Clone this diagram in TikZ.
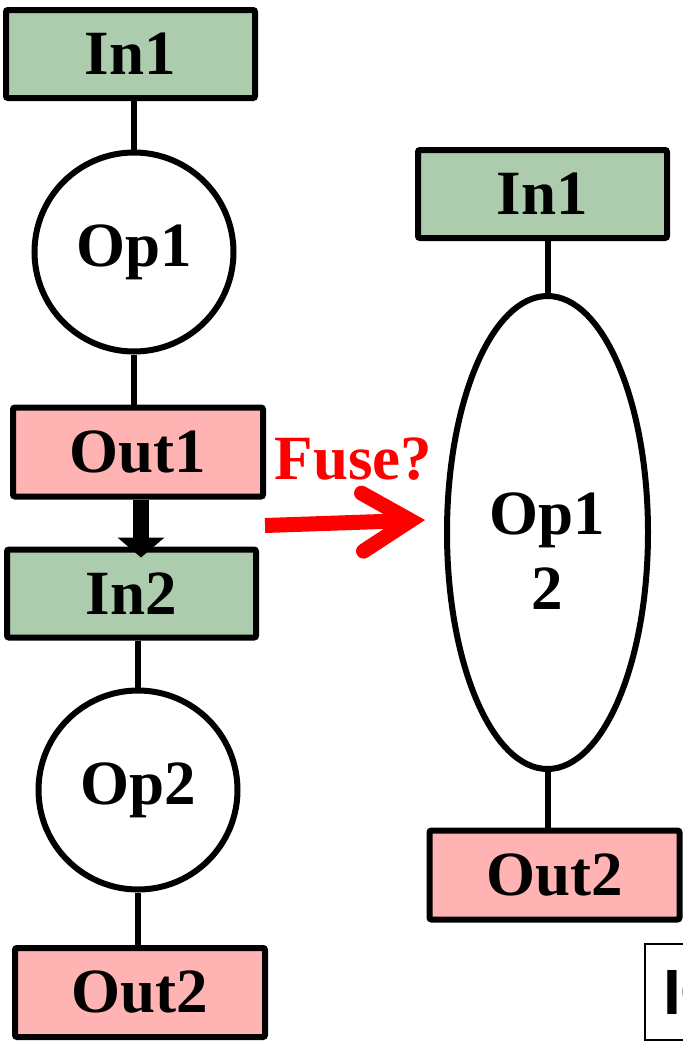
\documentclass[tikz,border=0pt]{standalone}
\usepackage{fontspec}
\setmainfont{Liberation Serif}
\newfontfamily\iofont{Liberation Sans}
\usepackage{tikz}
\usetikzlibrary{arrows.meta,shapes.geometric,positioning}
\definecolor{ingreen}{RGB}{173,203,173}
\definecolor{outpink}{RGB}{255,179,179}
\definecolor{fusered}{RGB}{255,0,0}
\newcommand\boxfont{\bfseries\fontsize{63}{75}\selectfont}
\tikzset{
  link/.style={line width=6pt,draw=black},
  inbox/.style={draw=black,line width=6pt,rounded corners=2pt,fill=ingreen,minimum width=249pt,minimum height=88pt,inner sep=0pt,font=\boxfont},
  outbox/.style={draw=black,line width=6pt,rounded corners=2pt,fill=outpink,minimum width=250pt,minimum height=89pt,inner sep=0pt,font=\boxfont},
  opnode/.style={circle,draw=black,line width=6pt,fill=white,minimum size=199pt,inner sep=0pt,font=\boxfont},
  fusedop/.style={ellipse,draw=black,line width=6pt,fill=white,minimum width=201pt,minimum height=473pt,inner sep=0pt},
  optext/.style={inner sep=0pt,align=center,font=\boxfont},
  passarrow/.style={-{Triangle[length=20pt,width=46pt]},line width=16pt,draw=black},
  fusearrow/.style={-{Straight Barb[length=48pt,width=58pt,line cap=round,line join=miter]},line width=15pt,draw=fusered}
}
\begin{document}
\begin{tikzpicture}[x=1pt,y=-1pt]
  \useasboundingbox (0,0) rectangle (683,1045);
  % left: two separate ops
  \node[inbox] (lIn1) at (130.5,54) {In1};
  \node[opnode] (lOp1) at (134,252) {Op1};
  \node[outbox] (lOut1) at (138,452) {Out1};
  \node[inbox] (lIn2) at (131.5,593.5) {In2};
  \node[opnode] (lOp2) at (138,790) {Op2};
  \node[outbox] (lOut2) at (140,992.5) {Out2};
  \draw[link] (lIn1.south -| lOp1.north) -- (lOp1.north);
  \draw[link] (lOp1.south) -- (lOp1.south |- lOut1.north);
  \draw[link] (lIn2.south -| lOp2.north) -- (lOp2.north);
  \draw[link] (lOp2.south) -- (lOp2.south |- lOut2.north);
  \draw[passarrow] ([xshift=3pt]lOut1.south) -- ([xshift=9.5pt,yshift=-11pt]lIn2.north);
  % right: fused op
  \node[inbox] (rIn1) at (542.5,194) {In1};
  \node[fusedop] (rOp) at (547.5,532.5) {};
  \node[optext] (rOpText) at ([yshift=-18.5pt]rOp.center) {Op1\\2};
  \node[outbox] (rOut2) at (554.5,875) {Out2};
  \draw[link] (rIn1.south -| rOp.north) -- (rOp.north);
  \draw[link] (rOp.south) -- (rOp.south |- rOut2.north);
  % fuse arrow
  \coordinate (fuseS) at (265,525.5);
  \coordinate (fuseE) at (425,520);
  \draw[fusearrow] (fuseS) -- (fuseE);
  \node[text=fusered,font=\boxfont,inner sep=0pt] (fuseLbl) at (353.5,459) {Fuse?};
  % clipped box at the edge
  \node[draw=black,line width=2pt,fill=white,minimum height=96pt,inner xsep=18pt,anchor=west,font=\iofont\bfseries\fontsize{64}{70}\selectfont] (ioBox) at (644,992) {IO};
\end{tikzpicture}
\end{document}
